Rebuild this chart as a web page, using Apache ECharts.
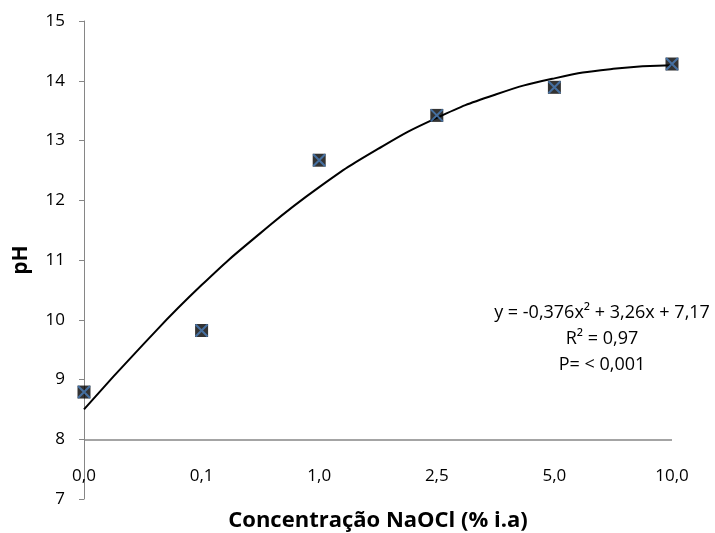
<!DOCTYPE html>
<html>
<head>
<meta charset="utf-8">
<script src="https://cdn.jsdelivr.net/npm/echarts@6/dist/echarts.min.js"></script>
<style>
  html, body { margin: 0; padding: 0; background: #fff; }
  #chart { width: 715px; height: 533px; }
</style>
</head>
<body>
<div id="chart"></div>
<script>
const categories = ['0,0', '0,1', '1,0', '2,5', '5,0', '10,0'];
const phValues = [8.79, 9.82, 12.67, 13.42, 13.89, 14.28];

const curveX = [0, 0.5, 1, 1.5, 2, 2.5, 3, 3.5, 4, 4.5, 5];
const curveY = [8.5, 9.58, 10.58, 11.45, 12.22, 12.86, 13.38, 13.77, 14.04, 14.2, 14.26];

const yTicks = [7, 15, 1];
const fitText = ['y = -0,376x\u00b2 + 3,26x + 7,17', 'R\u00b2 = 0,97', 'P= < 0,001'];

const font = '"Open Sans", Lato, sans-serif';
const points = phValues.map((v, i) => [i, v]);
const curve = curveX.map((x, i) => [x, curveY[i]]);

const chart = echarts.init(document.getElementById('chart'), null, { renderer: 'canvas' });

chart.setOption({
  animation: false,
  grid: { left: 84, right: 43, top: 21, bottom: 34, outerBoundsMode: 'none' },
  xAxis: {
    type: 'value',
    min: 0,
    max: categories.length - 1,
    interval: 1,
    name: 'Concentração NaOCl (% i.a)',
    nameLocation: 'middle',
    nameGap: 11,
    nameTextStyle: { fontFamily: font, fontSize: 22, fontWeight: 'bold', color: '#000' },
    axisLine: { show: false },
    axisTick: { show: false },
    splitLine: { show: false },
    axisLabel: {
      inside: true,
      margin: 14,
      fontFamily: font,
      fontSize: 17,
      color: '#000',
      formatter: (v) => categories[v] || '',
    },
  },
  yAxis: {
    type: 'value',
    min: yTicks[0],
    max: yTicks[1],
    interval: yTicks[2],
    name: 'pH',
    nameLocation: 'middle',
    nameGap: 52,
    nameTextStyle: { fontFamily: font, fontSize: 21, fontWeight: 'bold', color: '#000' },
    axisLine: { show: true, lineStyle: { color: '#868686', width: 1 } },
    axisTick: { show: true, length: 5, lineStyle: { color: '#868686' } },
    splitLine: { show: false },
    axisLabel: { fontFamily: font, fontSize: 17, color: '#000', margin: 19 },
  },
  series: [
    {
      type: 'line',
      data: curve,
      smooth: 0.5,
      showSymbol: false,
      lineStyle: { color: '#000', width: 2 },
      markLine: {
        silent: true,
        symbol: 'none',
        label: { show: false },
        lineStyle: { color: '#868686', width: 1.5, type: 'solid' },
        data: [[{ coord: [0, 8] }, { coord: [categories.length - 1, 8] }]],
      },
      z: 2,
    },
    {
      type: 'scatter',
      data: points,
      symbol: 'rect',
      symbolSize: 13,
      itemStyle: { color: '#000' },
      z: 3,
    },
    {
      type: 'scatter',
      data: points,
      symbol: 'path://M0,0L10,10M10,0L0,10',
      symbolSize: 12,
      itemStyle: { color: 'none', borderColor: '#4a7ebb', borderWidth: 2 },
      z: 4,
    },
  ],
  graphic: fitText.map((t, i) => ({
    type: 'text',
    x: 602,
    y: 313 + i * 26,
    style: {
      text: t,
      align: 'center',
      verticalAlign: 'middle',
      fontFamily: font,
      fontSize: 18,
      fill: '#000',
    },
  })),
});

window.addEventListener('resize', () => chart.resize());
</script>
</body>
</html>
